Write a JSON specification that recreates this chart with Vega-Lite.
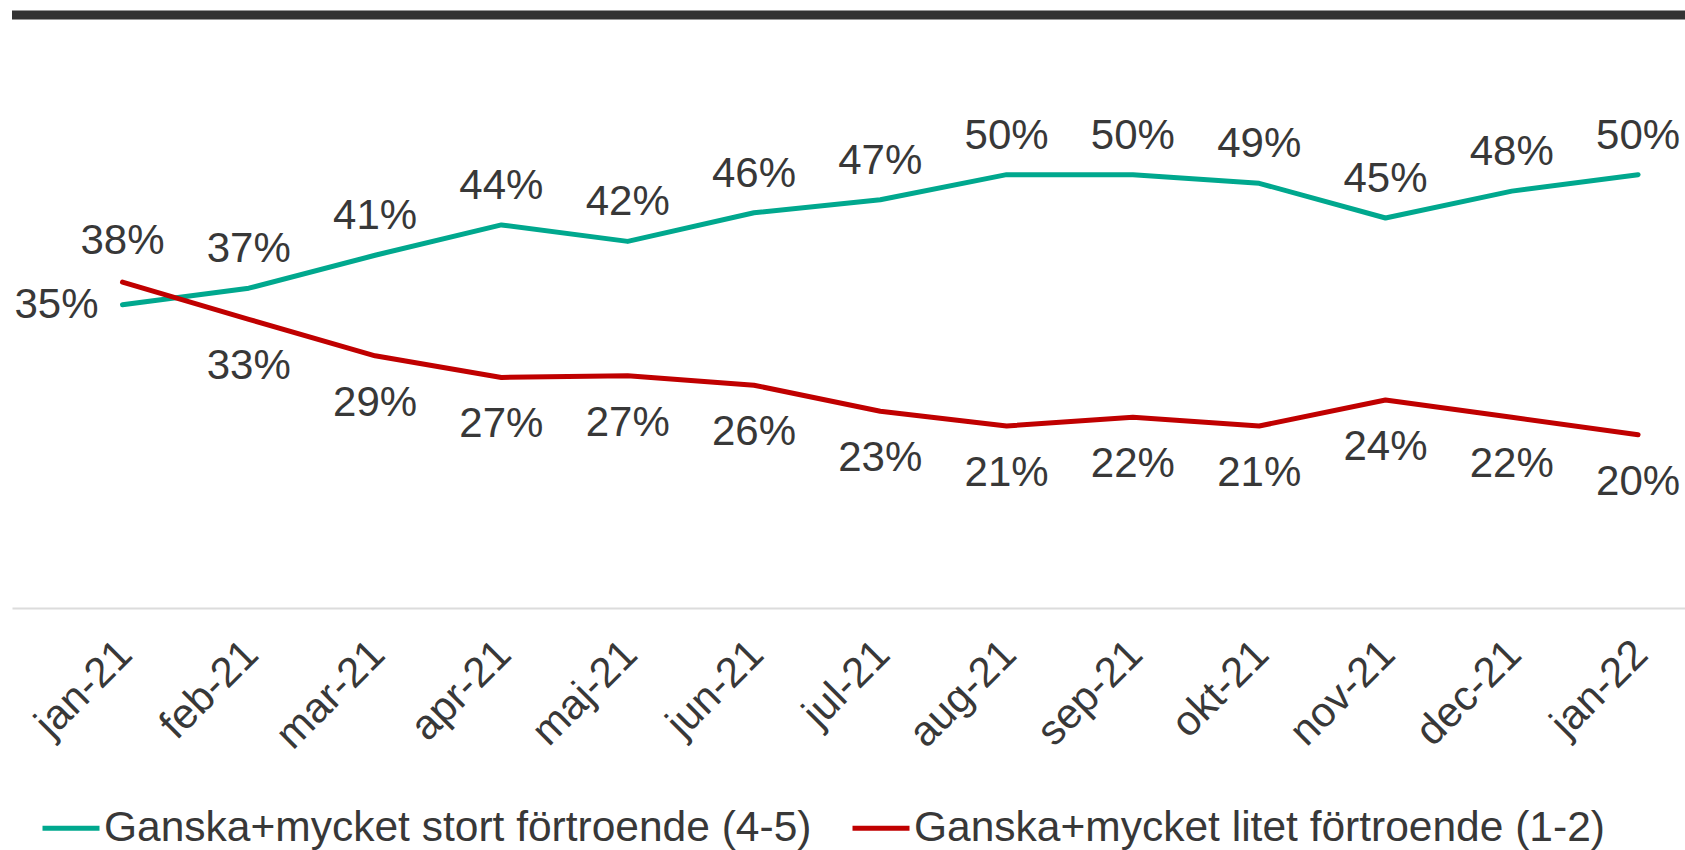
{
  "$schema": "https://vega.github.io/schema/vega-lite/v6.json",
  "width": 1673,
  "height": 593,
  "autosize": {"type": "none"},
  "padding": {"left": 12, "top": 15, "right": 0, "bottom": 242},
  "background": "white",
  "config": {"view": {"stroke": null}, "font": "Liberation Sans"},
  "data": {
    "values": [
      {"month": "jan-21", "serie": "Ganska+mycket stort förtroende (4-5)", "value": 0.35},
      {"month": "feb-21", "serie": "Ganska+mycket stort förtroende (4-5)", "value": 0.369},
      {"month": "mar-21", "serie": "Ganska+mycket stort förtroende (4-5)", "value": 0.407},
      {"month": "apr-21", "serie": "Ganska+mycket stort förtroende (4-5)", "value": 0.442},
      {"month": "maj-21", "serie": "Ganska+mycket stort förtroende (4-5)", "value": 0.423},
      {"month": "jun-21", "serie": "Ganska+mycket stort förtroende (4-5)", "value": 0.456},
      {"month": "jul-21", "serie": "Ganska+mycket stort förtroende (4-5)", "value": 0.471},
      {"month": "aug-21", "serie": "Ganska+mycket stort förtroende (4-5)", "value": 0.50},
      {"month": "sep-21", "serie": "Ganska+mycket stort förtroende (4-5)", "value": 0.50},
      {"month": "okt-21", "serie": "Ganska+mycket stort förtroende (4-5)", "value": 0.49},
      {"month": "nov-21", "serie": "Ganska+mycket stort förtroende (4-5)", "value": 0.45},
      {"month": "dec-21", "serie": "Ganska+mycket stort förtroende (4-5)", "value": 0.481},
      {"month": "jan-22", "serie": "Ganska+mycket stort förtroende (4-5)", "value": 0.50},
      {"month": "jan-21", "serie": "Ganska+mycket litet förtroende (1-2)", "value": 0.376},
      {"month": "feb-21", "serie": "Ganska+mycket litet förtroende (1-2)", "value": 0.333},
      {"month": "mar-21", "serie": "Ganska+mycket litet förtroende (1-2)", "value": 0.291},
      {"month": "apr-21", "serie": "Ganska+mycket litet förtroende (1-2)", "value": 0.266},
      {"month": "maj-21", "serie": "Ganska+mycket litet förtroende (1-2)", "value": 0.268},
      {"month": "jun-21", "serie": "Ganska+mycket litet förtroende (1-2)", "value": 0.257},
      {"month": "jul-21", "serie": "Ganska+mycket litet förtroende (1-2)", "value": 0.227},
      {"month": "aug-21", "serie": "Ganska+mycket litet förtroende (1-2)", "value": 0.21},
      {"month": "sep-21", "serie": "Ganska+mycket litet förtroende (1-2)", "value": 0.22},
      {"month": "okt-21", "serie": "Ganska+mycket litet förtroende (1-2)", "value": 0.21},
      {"month": "nov-21", "serie": "Ganska+mycket litet förtroende (1-2)", "value": 0.24},
      {"month": "dec-21", "serie": "Ganska+mycket litet förtroende (1-2)", "value": 0.22},
      {"month": "jan-22", "serie": "Ganska+mycket litet förtroende (1-2)", "value": 0.20}
    ]
  },
  "encoding": {
    "x": {
      "field": "month",
      "type": "ordinal",
      "scale": {
        "type": "point",
        "domain": ["jan-21", "feb-21", "mar-21", "apr-21", "maj-21", "jun-21", "jul-21", "aug-21", "sep-21", "okt-21", "nov-21", "dec-21", "jan-22"],
        "padding": 0.6231,
        "align": 0.702
      },
      "axis": {
        "title": null,
        "labelAngle": -45,
        "labelAlign": "right",
        "labelBaseline": "top",
        "labelFontSize": 42,
        "labelColor": "#383838",
        "labelPadding": 25,
        "labelOffset": -12,
        "ticks": false,
        "domain": true,
        "domainColor": "#dcdcdc",
        "domainWidth": 2,
        "grid": false,
        "labelOverlap": false
      }
    },
    "y": {"field": "value", "type": "quantitative", "scale": {"domain": [0, 0.6842]}, "axis": null}
  },
  "layer": [
    {
      "transform": [{"filter": "datum.month == 'jan-21' && datum.serie == 'Ganska+mycket stort förtroende (4-5)'"}],
      "mark": {"type": "rule", "stroke": "#333333", "strokeWidth": 9},
      "encoding": {"x": null, "y": {"datum": 0.6842, "type": "quantitative"}}
    },
    {
      "mark": {"type": "line", "strokeWidth": 5, "strokeCap": "round", "strokeJoin": "round"},
      "encoding": {
        "color": {
          "field": "serie",
          "type": "nominal",
          "scale": {
            "domain": ["Ganska+mycket stort förtroende (4-5)", "Ganska+mycket litet förtroende (1-2)"],
            "range": ["#00A88E", "#C00000"]
          },
          "legend": {
            "title": null,
            "orient": "none",
            "legendX": 28,
            "legendY": 782,
            "direction": "horizontal",
            "symbolType": "stroke",
            "symbolStrokeWidth": 5,
            "symbolSize": 3249,
            "labelFontSize": 42.5,
            "labelColor": "#383838",
            "labelOffset": 2,
            "columnPadding": 30,
            "labelLimit": 1000,
            "padding": 0
          }
        }
      }
    },
    {
      "transform": [{"filter": "datum.serie == 'Ganska+mycket stort förtroende (4-5)' && datum.month != 'jan-21'"}],
      "mark": {"type": "text", "align": "center", "baseline": "alphabetic", "dy": -26, "fontSize": 42, "fill": "#383838"},
      "encoding": {"text": {"field": "value", "type": "quantitative", "format": ".0%"}}
    },
    {
      "transform": [{"filter": "datum.serie == 'Ganska+mycket stort förtroende (4-5)' && datum.month == 'jan-21'"}],
      "mark": {"type": "text", "align": "right", "baseline": "middle", "dx": -24, "fontSize": 42, "fill": "#383838"},
      "encoding": {"text": {"field": "value", "type": "quantitative", "format": ".0%"}}
    },
    {
      "transform": [{"filter": "datum.serie == 'Ganska+mycket litet förtroende (1-2)' && datum.month == 'jan-21'"}],
      "mark": {"type": "text", "align": "center", "baseline": "alphabetic", "dy": -28, "fontSize": 42, "fill": "#383838"},
      "encoding": {"text": {"field": "value", "type": "quantitative", "format": ".0%"}}
    },
    {
      "transform": [{"filter": "datum.serie == 'Ganska+mycket litet förtroende (1-2)' && datum.month != 'jan-21'"}],
      "mark": {"type": "text", "align": "center", "baseline": "alphabetic", "dy": 60, "fontSize": 42, "fill": "#383838"},
      "encoding": {"text": {"field": "value", "type": "quantitative", "format": ".0%"}}
    }
  ]
}
